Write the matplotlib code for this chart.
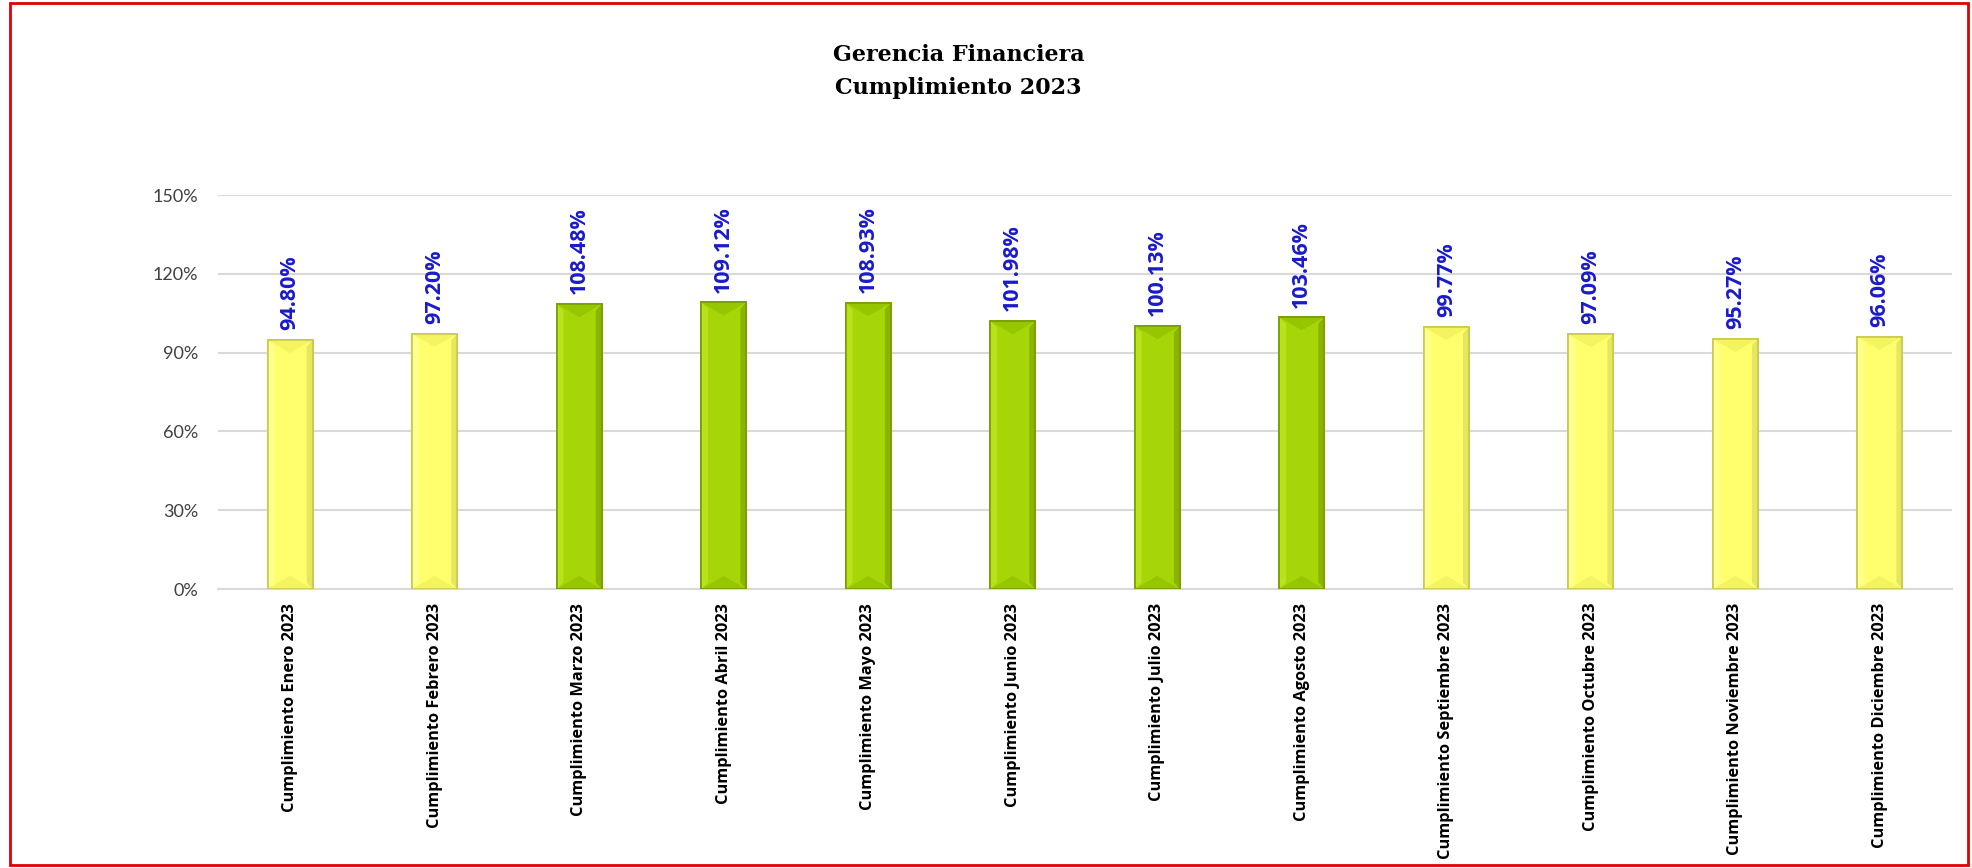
import matplotlib
matplotlib.use("Agg")
import matplotlib.pyplot as plt
from matplotlib.patches import Polygon, Rectangle
from matplotlib.ticker import FuncFormatter

# data
meses = ["Enero", "Febrero", "Marzo", "Abril", "Mayo", "Junio", "Julio",
         "Agosto", "Septiembre", "Octubre", "Noviembre", "Diciembre"]
cumplimiento = [94.80, 97.20, 108.48, 109.12, 108.93, 101.98, 100.13,
                103.46, 99.77, 97.09, 95.27, 96.06]
etiquetas = ["Cumplimiento %s 2023" % m for m in meses]
y_ticks = [0, 30, 60, 90, 120, 150]

fig = plt.figure(figsize=(19.72, 8.68), dpi=100)
ax = fig.add_axes([0.1105, 0.3214, 0.8794, 0.4539])

x = list(range(len(cumplimiento)))
caras = []
bordes = []
for v in cumplimiento:
    if v >= 100:
        caras.append("#a6d608")
        bordes.append("#7a9e00")
    else:
        caras.append("#ffff6e")
        bordes.append("#c9c94e")

barras = ax.bar(x, cumplimiento, width=0.31, color=caras, edgecolor=bordes,
                linewidth=1.2, zorder=3)

# bevel look: light strip on the left, dark strip on the right, shaded top / bottom
for b, v in zip(barras, cumplimiento):
    x0 = b.get_x()
    w = b.get_width()
    h = b.get_height()
    verde = v >= 100
    luz = "#b8e31c" if verde else "#ffff90"
    sombra = "#8ab400" if verde else "#e6e660"
    tope = "#96c600" if verde else "#f4f460"
    dy = 2.5  # in data units (percent)
    ax.add_patch(Polygon([(x0, 0), (x0 + w * 0.15, dy), (x0 + w * 0.15, h - dy), (x0, h)],
                         closed=True, facecolor=luz, edgecolor="none", zorder=4))
    ax.add_patch(Polygon([(x0 + w, 0), (x0 + w * 0.87, dy), (x0 + w * 0.87, h - dy), (x0 + w, h)],
                         closed=True, facecolor=sombra, edgecolor="none", zorder=4))
    ax.add_patch(Polygon([(x0, h), (x0 + w / 2, h - 2 * dy), (x0 + w, h)],
                         closed=True, facecolor=tope, edgecolor="none", zorder=4))
    ax.add_patch(Polygon([(x0, 0), (x0 + w / 2, 2 * dy), (x0 + w, 0)],
                         closed=True, facecolor=tope, edgecolor="none", zorder=4))
    ax.add_patch(Rectangle((x0, 0), w, h, facecolor="none", edgecolor=b.get_edgecolor(),
                           linewidth=1.2, zorder=5))
    ax.annotate("%.2f%%" % v, xy=(b.get_x() + w / 2, h), xytext=(0, 7),
                textcoords="offset points", rotation=90, ha="center", va="bottom",
                color="#1a1acc", fontsize=15.5, fontweight="bold", family="Open Sans",
                zorder=6)

ax.set_xlim(-0.5, len(cumplimiento) - 0.5)
ax.set_ylim(0, 150)
ax.set_yticks(y_ticks)
ax.yaxis.set_major_formatter(FuncFormatter(lambda v, p: "%d%%" % v))
ax.grid(axis="y", color="#d9d9d9", linewidth=1.5, zorder=0)
ax.set_axisbelow(True)
for s in ["top", "right", "left"]:
    ax.spines[s].set_visible(False)
ax.spines["bottom"].set_color("#d9d9d9")
ax.spines["bottom"].set_linewidth(1.5)

ax.set_xticks(x)
ax.set_xticklabels(etiquetas, rotation=90, fontsize=11.8, fontweight="bold", family="Open Sans")
ax.tick_params(axis="x", length=0, pad=10)
ax.tick_params(axis="y", length=0, pad=14, labelsize=13, labelcolor="#404040")
for t in ax.get_yticklabels():
    t.set_family("Lato")

fig.text(0.486, 0.937, "Gerencia Financiera", ha="center", va="center",
         fontsize=16, fontweight="bold", family="DejaVu Serif")
fig.text(0.486, 0.899, "Cumplimiento 2023", ha="center", va="center",
         fontsize=16, fontweight="bold", family="DejaVu Serif")

# red frame round the whole chart
fig.patches.append(Rectangle((0.005, 0.003), 0.993, 0.994, transform=fig.transFigure,
                             fill=False, edgecolor="#e00000", linewidth=2))

fig.savefig("out.png", dpi=100)
